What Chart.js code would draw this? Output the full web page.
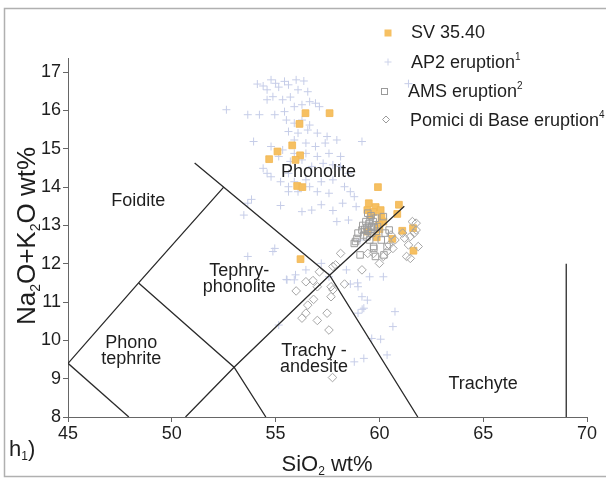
<!DOCTYPE html>
<html>
<head>
<meta charset="utf-8">
<script src="https://cdn.jsdelivr.net/npm/chart.js@4.4.1/dist/chart.umd.min.js"></script>
<style>
  html, body { margin: 0; padding: 0; background: #fff; }
  #wrap { width: 606px; height: 480px; position: relative; }
</style>
</head>
<body>
<div id="wrap"><canvas id="tas" width="606" height="480"></canvas></div>
<script>
// tick labels
const xTicks = [45, 50, 55, 60, 65, 70];
const yTicks = [8, 9, 10, 11, 12, 13, 14, 15, 16, 17];

// SV 35.40 samples [SiO2, Na2O+K2O]
const sv3540 = [
  [56.44, 15.93], [57.6, 15.93], [56.15, 15.65], [55.8, 15.09], [55.09, 14.93],
  [54.69, 14.73], [56.18, 14.83], [55.96, 14.71], [56.04, 14.03], [56.29, 14.0],
  [59.93, 14.0], [56.2, 12.12], [59.49, 13.58], [59.82, 13.48], [60.06, 13.4],
  [60.94, 13.54], [60.86, 13.3], [59.42, 13.4], [60.1, 13.21], [60.19, 13.1],
  [59.42, 12.84], [59.87, 12.69], [61.1, 12.86], [61.62, 12.93], [60.62, 12.65],
  [61.64, 12.34], [59.58, 13.27], [59.98, 13.01], [59.7, 13.35], [60.0, 12.9]
];

// AP2 eruption
const ap2 = [
  [54.12, 16.69], [54.4, 16.64], [54.59, 16.54], [54.78, 16.8], [55.0, 16.71],
  [55.15, 16.61], [55.43, 16.76], [55.62, 16.67], [55.99, 16.8], [56.08, 16.54],
  [56.36, 16.77], [56.55, 16.49], [54.87, 16.36], [55.34, 16.28], [55.71, 16.35],
  [54.59, 16.28], [52.63, 16.02], [53.66, 15.89], [54.22, 15.89], [54.96, 15.89],
  [55.43, 15.97], [55.9, 16.1], [56.27, 16.15], [56.64, 16.23], [56.92, 16.19],
  [57.11, 16.1], [55.52, 15.75], [55.9, 15.67], [56.27, 15.75], [56.64, 15.62],
  [55.62, 15.45], [56.08, 15.41], [56.55, 15.49], [57.01, 15.41], [57.48, 15.32],
  [55.9, 15.23], [56.46, 15.15], [56.92, 15.06], [57.39, 15.15], [57.95, 15.23],
  [53.94, 15.19], [54.78, 15.06], [55.34, 14.97], [55.9, 14.88], [56.46, 14.88],
  [57.01, 14.8], [57.57, 14.88], [58.13, 14.8], [59.16, 15.19], [54.4, 14.49],
  [55.15, 14.8], [55.71, 14.67], [56.27, 14.71], [56.74, 14.54], [57.29, 14.62],
  [57.76, 14.58], [58.13, 14.54], [58.51, 14.36], [55.62, 14.36], [55.9, 14.14],
  [56.46, 14.19], [57.2, 14.14], [57.76, 14.19], [58.32, 14.01], [58.6, 13.88],
  [58.79, 13.75], [55.62, 14.01], [55.62, 13.88], [56.08, 13.88], [56.64, 14.01],
  [57.01, 13.88], [57.57, 13.84], [54.78, 14.27], [55.24, 14.14], [54.59, 14.36],
  [53.84, 13.68], [53.47, 13.27], [53.66, 13.58], [55.24, 13.52], [56.27, 13.36],
  [56.74, 13.4], [57.2, 13.54], [57.76, 13.39], [58.23, 13.58], [58.88, 13.49],
  [57.95, 13.1], [58.51, 13.14], [54.96, 12.4], [54.87, 12.32], [53.66, 12.19],
  [55.9, 11.58], [55.52, 11.59], [56.46, 11.84], [57.2, 12.01], [57.57, 11.66],
  [58.41, 11.84], [58.6, 11.47], [58.97, 11.4], [59.16, 11.14], [59.25, 10.84],
  [58.97, 10.71], [59.53, 11.66], [60.19, 11.66], [60.75, 10.75], [60.65, 10.36],
  [58.79, 9.44], [59.25, 9.53], [59.07, 12.62], [60.65, 12.62], [55.15, 10.4],
  [60.37, 9.62], [59.63, 10.05], [58.95, 11.5], [59.42, 11.05], [59.17, 10.81],
  [60.06, 10.03], [55.55, 11.58], [55.96, 11.71], [61.4, 16.7]
];

// AMS eruption
const ams = [
  [58.79, 12.53], [59.07, 12.23], [58.92, 12.66], [59.16, 12.88], [59.35, 13.1],
  [59.44, 13.32], [59.63, 12.8], [59.72, 12.45], [59.81, 12.19], [59.91, 12.97],
  [60.09, 12.62], [60.28, 12.8], [60.37, 12.45], [59.53, 12.62], [59.25, 12.75],
  [58.97, 12.8], [60.19, 13.23], [60.47, 12.88], [59.81, 13.19], [59.63, 12.97],
  [58.85, 12.58], [59.73, 12.4], [60.22, 12.23], [59.4, 12.95], [59.5, 13.05],
  [59.6, 12.9], [59.7, 13.1], [59.3, 12.9], [59.45, 12.85], [59.55, 13.15],
  [59.75, 12.95], [59.85, 12.85], [59.2, 13.0], [59.6, 13.25], [59.4, 12.7]
];

// Pomici di Base eruption
const pomiciBase = [
  [55.99, 11.29], [56.46, 11.53], [57.11, 11.79], [57.01, 11.4], [57.67, 11.4],
  [57.76, 11.93], [58.13, 12.27], [58.32, 11.47], [57.76, 11.32], [57.67, 11.14],
  [56.83, 11.07], [56.55, 10.92], [56.46, 10.71], [56.27, 10.58], [57.01, 10.52],
  [57.48, 10.71], [57.57, 10.27], [59.16, 11.84], [57.89, 11.97], [56.8, 11.56],
  [57.74, 9.03], [61.21, 12.67], [61.4, 12.49], [61.49, 12.71], [61.59, 13.1],
  [61.68, 12.8], [61.77, 12.88], [61.87, 12.45], [61.31, 12.19], [61.49, 12.14],
  [61.12, 12.8], [60.75, 12.62], [60.65, 12.4], [60.37, 12.32], [60.19, 12.19],
  [60.0, 12.01], [59.72, 12.27], [59.44, 12.27], [60.47, 12.49], [60.56, 12.75],
  [61.77, 13.06]
];

// TAS field boundaries
const tasLines = [
  [[45, 9.4], [48.4, 11.5], [52.5, 14]],
  [[45, 9.4], [47.93, 8]],
  [[48.4, 11.5], [53, 9.3], [54.53, 8]],
  [[51.1, 14.63], [57.6, 11.7], [61.85, 8]],
  [[50.66, 8], [53, 9.3], [57.6, 11.7], [61.2, 13.5]],
  [[69, 8], [69, 12]]
];

// field names [text lines, SiO2, Na2O+K2O]
const fieldNames = [
  [['Phonolite'], 57.07, 14.4],
  [['Foidite'], 48.38, 13.64],
  [['Tephry-', 'phonolite'], 53.25, 11.6],
  [['Phono', 'tephrite'], 48.05, 9.72],
  [['Trachy -', 'andesite'], 56.85, 9.5],
  [['Trachyte'], 65.0, 8.86]
];

const FONT = '"Liberation Sans", Arial, sans-serif';
const toXY = arr => arr.map(p => ({ x: p[0], y: p[1] }));

// draws text with sub/superscripts, parts = [[text, 'sub'|'sup'|'']]
function richText(ctx, parts, x, y, size, align) {
  const small = Math.round(size * 0.55);
  let w = 0;
  parts.forEach(p => {
    ctx.font = (p[1] ? small : size) + 'px ' + FONT;
    w += ctx.measureText(p[0]).width;
  });
  let cx = align === 'center' ? x - w / 2 : x;
  ctx.textAlign = 'left';
  ctx.textBaseline = 'alphabetic';
  parts.forEach(p => {
    ctx.font = (p[1] ? small : size) + 'px ' + FONT;
    const dy = p[1] === 'sub' ? size * 0.18 : p[1] === 'sup' ? -size * 0.42 : 0;
    ctx.fillText(p[0], cx, y + dy);
    cx += ctx.measureText(p[0]).width;
  });
}

const decor = {
  id: 'decor',
  afterDraw(chart) {
    const ctx = chart.ctx;
    const xs = chart.scales.x, ys = chart.scales.y;
    ctx.save();

    // frame
    ctx.strokeStyle = '#b0b0b0';
    ctx.lineWidth = 1.5;
    ctx.strokeRect(4.5, 8.5, 700, 468);

    ctx.fillStyle = '#1e1e1e';
    // field names
    fieldNames.forEach(f => {
      const px = xs.getPixelForValue(f[1]);
      const py = ys.getPixelForValue(f[2]);
      ctx.font = '18px ' + FONT;
      ctx.textAlign = 'center';
      ctx.textBaseline = 'middle';
      const n = f[0].length;
      f[0].forEach((t, i) => {
        ctx.fillText(t, px, py + (i - (n - 1) / 2) * 16);
      });
    });

    // axis titles
    richText(ctx, [['SiO', ''], ['2', 'sub'], [' wt%', '']], 327, 471, 22, 'center');
    richText(ctx, [['h', ''], ['1', 'sub'], [')', '']], 9, 456, 22, 'left');
    ctx.save();
    ctx.translate(35, 236);
    ctx.rotate(-Math.PI / 2);
    richText(ctx, [['Na', ''], ['2', 'sub'], ['O+K', ''], ['2', 'sub'], ['O wt%', '']], 0, 0, 26, 'center');
    ctx.restore();

    // legend
    const lx = 388;
    ctx.fillStyle = '#f6c062';
    ctx.strokeStyle = '#f0b550';
    ctx.lineWidth = 1;
    ctx.fillRect(lx - 3.5, 29.5, 7, 7);
    ctx.strokeStyle = '#cdd3ea';
    ctx.beginPath();
    ctx.moveTo(lx - 3.5, 62); ctx.lineTo(lx + 3.5, 62);
    ctx.moveTo(lx, 58.5); ctx.lineTo(lx, 65.5);
    ctx.stroke();
    ctx.strokeStyle = '#9a9a9a';
    ctx.strokeRect(lx - 6.5, 88.5, 6, 6);
    ctx.beginPath();
    ctx.moveTo(lx - 2, 116); ctx.lineTo(lx + 1.5, 119.5); ctx.lineTo(lx - 2, 123); ctx.lineTo(lx - 5.5, 119.5);
    ctx.closePath();
    ctx.stroke();

    ctx.fillStyle = '#1e1e1e';
    richText(ctx, [['SV 35.40', '']], 411, 38, 18, 'left');
    richText(ctx, [['AP2 eruption', ''], ['1', 'sup']], 411, 68, 18, 'left');
    richText(ctx, [['AMS eruption', ''], ['2', 'sup']], 408, 97, 18, 'left');
    richText(ctx, [['Pomici di Base eruption', ''], ['4', 'sup']], 410, 126, 18, 'left');

    ctx.restore();
  }
};

const lineSets = tasLines.map(l => ({
  type: 'scatter',
  data: toXY(l),
  showLine: true,
  borderColor: '#2a2a2a',
  borderWidth: 1.3,
  pointRadius: 0,
  fill: false,
  order: 1
}));

new Chart(document.getElementById('tas'), {
  type: 'scatter',
  data: {
    datasets: [
      {
        label: 'AP2 eruption',
        data: toXY(ap2),
        pointStyle: 'cross',
        pointRadius: 4,
        borderColor: '#c6cde8',
        borderWidth: 1,
        backgroundColor: '#c6cde8',
        order: 6
      },
      {
        label: 'SV 35.40',
        data: toXY(sv3540),
        pointStyle: 'rect',
        pointRadius: 4.8,
        backgroundColor: '#f6c062',
        borderColor: '#f1b652',
        borderWidth: 0.8,
        order: 5
      },
      {
        label: 'AMS eruption',
        data: toXY(ams),
        pointStyle: 'rect',
        pointRadius: 4.6,
        backgroundColor: 'rgba(255,255,255,0)',
        borderColor: '#9d9d9d',
        borderWidth: 1,
        order: 4
      },
      {
        label: 'Pomici di Base eruption',
        data: toXY(pomiciBase),
        pointStyle: 'rectRot',
        pointRadius: 4.3,
        backgroundColor: 'rgba(255,255,255,0)',
        borderColor: '#a5a5a5',
        borderWidth: 1,
        order: 3
      },
      ...lineSets
    ]
  },
  options: {
    responsive: false,
    animation: false,
    events: [],
    layout: { padding: { left: 0, right: 19, top: 58, bottom: 0 } },
    plugins: { legend: { display: false }, tooltip: { enabled: false } },
    scales: {
      x: {
        type: 'linear',
        min: 45,
        max: 70,
        afterFit: s => { s.height = 63; },
        afterBuildTicks: s => { s.ticks = xTicks.map(v => ({ value: v })); },
        ticks: { color: '#1e1e1e', font: { family: FONT, size: 18 }, padding: 1, maxRotation: 0 },
        grid: { drawOnChartArea: false, tickLength: 5, color: '#666' },
        border: { color: '#666', width: 1 }
      },
      y: {
        type: 'linear',
        min: 8,
        max: 17.37,
        afterFit: s => { s.width = 68; },
        afterBuildTicks: s => { s.ticks = yTicks.map(v => ({ value: v })); },
        ticks: { color: '#1e1e1e', font: { family: FONT, size: 18 }, padding: 2 },
        grid: { drawOnChartArea: false, tickLength: 5, color: '#666' },
        border: { color: '#666', width: 1 }
      }
    }
  },
  plugins: [decor]
});
</script>
</body>
</html>
